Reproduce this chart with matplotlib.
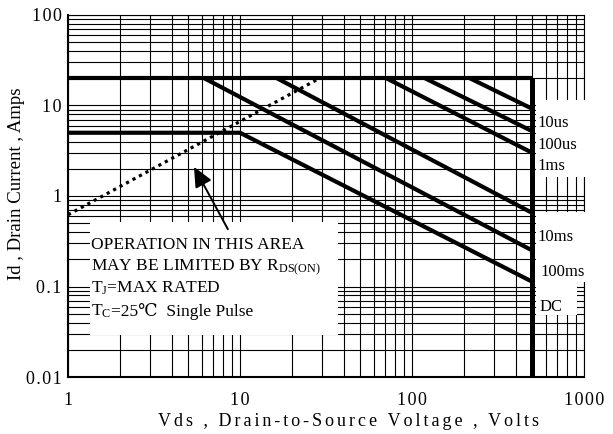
import numpy as np
import matplotlib
matplotlib.use('Agg')
import matplotlib.pyplot as plt
from matplotlib.ticker import LogLocator, NullFormatter, FixedLocator, FixedFormatter
from matplotlib.patches import Rectangle
from matplotlib.transforms import ScaledTranslation

plt.rcParams['font.family'] = ['Liberation Serif', 'DejaVu Serif']
plt.rcParams['mathtext.fontset'] = 'custom'
plt.rcParams['mathtext.rm'] = 'Liberation Serif'
plt.rcParams['mathtext.it'] = 'Liberation Serif:italic'
plt.rcParams['mathtext.bf'] = 'Liberation Serif:bold'

# ---------------- data ----------------
v_max = 500          # V, max rated drain-source voltage
i_max = 20           # A, max pulsed current
v_left = 1
pulse_labels = ['10us', '100us', '1ms', '10ms', '100ms']
pulse_v_start = [217, 119, 71, 16.4, 6.2]     # V where each limit leaves the 20 A line
pulse_i_end = [9.2, 5.2, 3.0, 0.65, 0.25]     # A at 500 V
dc_label = 'DC'
dc_v = [1, 10, 500]
dc_i = [5, 5, 0.113]
rds_v = [1, 29]
rds_i = [0.62, 20]
x_ticks = [1, 10, 100, 1000]
y_ticks = [0.01, 0.1, 1, 10, 100]
x_tick_labels = ['1', '10', '100', '1000']
y_tick_labels = ['0.01', '0.1', '1', '10', '100']

HS = '\u200a'
def spaced(s, sep=HS):
    return sep.join(list(s))

fig = plt.figure(figsize=(6.13, 4.34), dpi=100)
ax = fig.add_axes([68/613, 57/434, 516/613, 362/434])
ax.set_xscale('log')
ax.set_yscale('log')
ax.set_xlim(1, 1000)
ax.set_ylim(0.01, 100)

ax.xaxis.set_major_locator(FixedLocator(x_ticks))
ax.xaxis.set_major_formatter(FixedFormatter([spaced(t) for t in x_tick_labels]))
ax.yaxis.set_major_locator(FixedLocator(y_ticks))
ax.yaxis.set_major_formatter(FixedFormatter([spaced(t) for t in y_tick_labels]))
ax.xaxis.set_minor_locator(LogLocator(base=10, subs=np.arange(2, 10), numticks=100))
ax.yaxis.set_minor_locator(LogLocator(base=10, subs=np.arange(2, 10), numticks=100))
ax.xaxis.set_minor_formatter(NullFormatter())
ax.yaxis.set_minor_formatter(NullFormatter())
ax.tick_params(which='both', length=0)
ax.tick_params(axis='x', pad=10.5, labelsize=13)
ax.tick_params(axis='y', pad=4.5, labelsize=13)
ax.set_axisbelow(True)
ax.grid(which='both', color='black', lw=0.8)
for s in ['top', 'right']:
    ax.spines[s].set_linewidth(0.8)
for s in ['left', 'bottom']:
    ax.spines[s].set_linewidth(1.5)

# white boxes hiding the grid
boxes = [
    (0.043, 0.116, 0.480, 0.312),   # note box
    (0.907, 0.552, 0.100, 0.213),   # 10us..1ms
    (0.907, 0.262, 0.100, 0.194),   # 10ms, 100ms
    (0.907, 0.171, 0.079, 0.091),   # DC
]
for (x0, y0, w, h) in boxes:
    ax.add_patch(Rectangle((x0, y0), w, h, transform=ax.transAxes,
                           facecolor='white', edgecolor='none', zorder=2.7, clip_on=False))

# limit lines
lw = 3.0
ax.plot([v_left, v_max], [i_max, i_max], color='black', lw=lw, zorder=3, solid_capstyle='butt')
ax.plot([v_max, v_max], [0.01, i_max], color='black', lw=3.6, zorder=3, solid_capstyle='butt')
for vs, ie in zip(pulse_v_start, pulse_i_end):
    ax.plot([vs, v_max], [i_max, ie], color='black', lw=lw, zorder=3, solid_capstyle='butt')
ax.plot(dc_v, dc_i, color='black', lw=lw, zorder=3, solid_capstyle='butt')
ax.plot(rds_v, rds_i, color='black', lw=2.3, linestyle=(0, (1, 1.3)), zorder=3)

# curve labels
lab_pos = [(0.909, 0.690), (0.909, 0.629), (0.909, 0.572),
           (0.909, 0.3765), (0.915, 0.279), (0.913, 0.182)]
for txt, (x, y) in zip(pulse_labels + [dc_label], lab_pos):
    ax.text(x, y, txt, transform=ax.transAxes, ha='left', va='baseline',
            fontsize=12, zorder=4)

# note
note_lines = ['OPERATION IN THIS AREA',
              r'MAY BE LIMITED BY R$_\mathregular{DS(ON)}$',
              r'T$_\mathregular{J}$=MAX RATED']
note_y = [0.353, 0.293, 0.233, 0.169]
note_x = 0.045
for txt, y in zip(note_lines, note_y):
    ax.text(note_x, y, txt, transform=ax.transAxes, ha='left', va='baseline',
            fontsize=12.5, zorder=4)
# last line: subscript part then the rest (with ℃ via font fallback)
t1 = ax.text(note_x, note_y[3], r'T$_\mathregular{C}$', transform=ax.transAxes,
             ha='left', va='baseline', fontsize=12.5, zorder=4)
fig.canvas.draw()
renderer = fig.canvas.get_renderer()
bb = t1.get_window_extent(renderer)
x_anchor = ax.transAxes.transform((note_x, note_y[3]))[0]
dx = (bb.x1 - x_anchor) / fig.dpi
ax.text(note_x, note_y[3], '=25℃  Single Pulse',
        transform=ax.transAxes + ScaledTranslation(dx, 0, fig.dpi_scale_trans),
        ha='left', va='baseline', fontsize=12.5, zorder=4,
        family=['Liberation Serif', 'DejaVu Serif', 'DejaVu Sans', 'Noto Sans CJK SC'])

# arrow
ax.annotate('', xy=(5.4, 2.1), xytext=(8.5, 0.43),
            arrowprops=dict(arrowstyle='-|>,head_length=0.55,head_width=0.25',
                            mutation_scale=22, lw=1.4, color='black',
                            shrinkA=0, shrinkB=0), zorder=4)

ax.set_xlabel(spaced('Vds , Drain-to-Source Voltage , Volts', HS + HS), fontsize=13)
ax.xaxis.set_label_coords(0.543, -0.0995)
ax.xaxis.label.set_verticalalignment('top')
ax.set_ylabel('Id , Drain Current , Amps', fontsize=13.5)
ax.yaxis.set_label_coords(-0.1, 0.534)
ax.yaxis.label.set_verticalalignment('center')

fig.savefig('out.png', dpi=100)
